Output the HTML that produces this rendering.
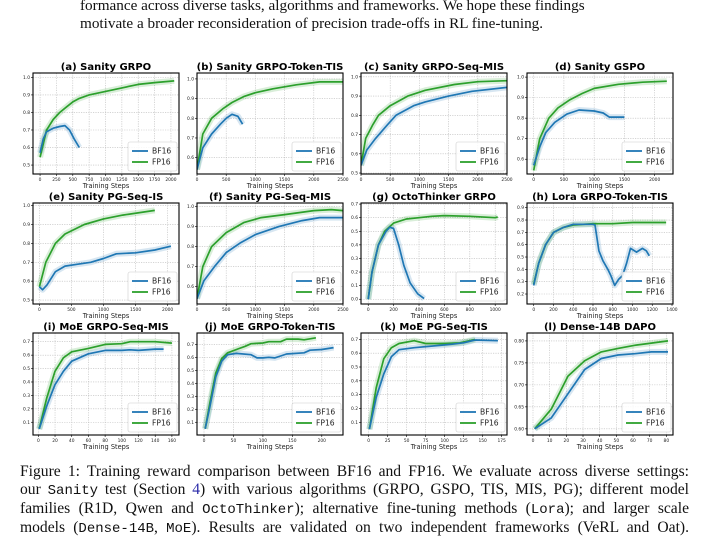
<!DOCTYPE html>
<html><head><meta charset="utf-8">
<style>
html,body{margin:0;padding:0;background:#fff;}
body{width:717px;height:548px;position:relative;overflow:hidden;font-family:"Liberation Serif",serif;}
.top{position:absolute;left:80px;width:560px;font-size:15.2px;line-height:18px;color:#111;}
.cap{position:absolute;left:20px;width:669px;font-size:15.6px;line-height:18px;color:#111;}
.cap div{text-align:justify;text-align-last:justify;white-space:nowrap;}
.mono{font-family:"Liberation Mono",monospace;font-size:14px;}
svg{position:absolute;left:0;top:0;}
</style></head>
<body>
<div class="top" style="top:-3px">formance across diverse tasks, algorithms and frameworks. We hope these findings<br>motivate a broader reconsideration of precision trade-offs in RL fine-tuning.</div>
<svg id="fig" width="717" height="548"></svg>
<div class="cap" style="top:463px">
<div>Figure 1: Training reward comparison between BF16 and FP16. We evaluate across diverse settings:</div>
<div>our <span class="mono">Sanity</span> test (Section <span style="color:#2a2aa8">4</span>) with various algorithms (GRPO, GSPO, TIS, MIS, PG); different model</div>
<div>families (R1D, Qwen and <span class="mono">OctoThinker</span>); alternative fine-tuning methods (<span class="mono">Lora</span>); and larger scale</div>
<div>models (<span class="mono">Dense-14B</span>, <span class="mono">MoE</span>). Results are validated on two independent frameworks (VeRL and Oat).</div>
</div>
<script>
// ---- data ----
const aBFx=[0,50,100,200,300,380,450,520,600];
const aBF=[0.57,0.65,0.69,0.71,0.72,0.725,0.70,0.65,0.60];
const aFPx=[0,100,200,300,400,500,600,750,1000,1250,1500,1750,2050];
const aFP=[0.545,0.70,0.76,0.80,0.83,0.86,0.88,0.90,0.92,0.94,0.96,0.97,0.98];
const bBFx=[0,100,250,400,500,600,700,780];
const bBF=[0.54,0.65,0.72,0.77,0.80,0.82,0.81,0.77];
const bFPx=[0,100,250,450,600,800,1000,1300,1700,2100,2500];
const bFP=[0.54,0.72,0.80,0.85,0.88,0.91,0.93,0.95,0.97,0.985,0.985];
const cBFx=[0,100,250,450,600,900,1100,1500,1900,2500];
const cBF=[0.54,0.62,0.68,0.75,0.80,0.85,0.87,0.90,0.925,0.945];
const cFPx=[0,80,200,300,500,800,1100,1600,2000,2500];
const cFP=[0.54,0.68,0.75,0.80,0.85,0.90,0.93,0.96,0.975,0.98];
const dBFx=[0,100,200,350,550,750,1000,1150,1250,1500];
const dBF=[0.57,0.66,0.73,0.78,0.82,0.84,0.835,0.825,0.805,0.805];
const dFPx=[0,100,250,400,600,800,1000,1400,1800,2200];
const dFP=[0.545,0.70,0.80,0.85,0.89,0.92,0.945,0.965,0.975,0.98];
const eBFx=[0,50,120,250,400,600,800,1000,1200,1500,1800,2050];
const eBF=[0.57,0.555,0.58,0.65,0.68,0.69,0.70,0.72,0.745,0.75,0.765,0.785];
const eFPx=[0,100,250,400,700,1000,1300,1800];
const eFP=[0.57,0.70,0.80,0.85,0.90,0.93,0.95,0.975];
const fBFx=[0,120,300,500,750,1000,1400,1800,2100,2500];
const fBF=[0.54,0.63,0.70,0.77,0.82,0.86,0.90,0.93,0.945,0.945];
const fFPx=[0,100,250,500,800,1100,1500,2000,2300,2500];
const fFP=[0.54,0.70,0.80,0.87,0.92,0.945,0.96,0.98,0.985,0.98];
const gBFx=[0,30,80,140,170,200,240,280,330,390,440];
const gBF=[0.0,0.2,0.4,0.5,0.53,0.52,0.4,0.25,0.12,0.04,0.005];
const gFPx=[0,30,80,130,200,300,400,500,600,800,1000,1020];
const gFP=[0.0,0.2,0.4,0.5,0.56,0.59,0.60,0.61,0.615,0.61,0.60,0.605];
const hBFx=[0,50,120,200,300,400,600,620,660,700,750,780,820,860,900,940,980,1040,1100,1140,1170];
const hBF=[0.27,0.45,0.6,0.7,0.74,0.765,0.765,0.76,0.55,0.47,0.40,0.35,0.27,0.32,0.35,0.45,0.57,0.54,0.57,0.55,0.51];
const hFPx=[0,50,120,200,300,400,600,800,1000,1200,1340];
const hFP=[0.28,0.45,0.6,0.7,0.74,0.76,0.77,0.77,0.78,0.78,0.78];
const iBFx=[1,10,20,30,40,60,80,100,110,120,140,150];
const iBF=[0.05,0.22,0.38,0.48,0.555,0.61,0.635,0.635,0.64,0.635,0.645,0.645];
const iFPx=[1,10,20,30,40,60,80,100,110,140,160];
const iFP=[0.05,0.28,0.48,0.58,0.625,0.65,0.68,0.685,0.70,0.70,0.69];
const jBFx=[2,10,20,30,40,55,80,90,100,110,120,130,140,170,180,200,220];
const jBF=[0.05,0.22,0.45,0.57,0.62,0.63,0.62,0.595,0.595,0.60,0.595,0.61,0.625,0.635,0.655,0.66,0.675];
const jFPx=[2,10,20,30,40,55,70,80,100,110,130,140,160,170,190];
const jFP=[0.05,0.25,0.48,0.59,0.635,0.66,0.685,0.705,0.71,0.72,0.72,0.74,0.74,0.735,0.75];
const kBFx=[1,10,20,30,40,60,90,110,125,140,170];
const kBF=[0.05,0.28,0.45,0.575,0.625,0.64,0.655,0.665,0.675,0.695,0.69];
const kFPx=[1,10,20,30,40,60,75,100,120,140];
const kFP=[0.05,0.35,0.56,0.64,0.67,0.69,0.67,0.67,0.675,0.70];
const lBFx=[1,11,21,31,41,51,61,71,81];
const lBF=[0.60,0.625,0.68,0.735,0.76,0.768,0.771,0.775,0.775];
const lFPx=[1,11,21,31,41,51,61,71,81];
const lFP=[0.60,0.645,0.72,0.755,0.775,0.783,0.79,0.795,0.80];
const titles=["(a) Sanity GRPO","(b) Sanity GRPO-Token-TIS","(c) Sanity GRPO-Seq-MIS","(d) Sanity GSPO","(e) Sanity PG-Seq-IS","(f) Sanity PG-Seq-MIS","(g) OctoThinker GRPO","(h) Lora GRPO-Token-TIS","(i) MoE GRPO-Seq-MIS","(j) MoE GRPO-Token-TIS","(k) MoE PG-Seq-TIS","(l) Dense-14B DAPO"];
const xTicks=[[0,250,500,750,1000,1250,1500,1750,2000],[0,500,1000,1500,2000,2500],[0,500,1000,1500,2000,2500],[0,500,1000,1500,2000],[0,500,1000,1500,2000],[0,500,1000,1500,2000,2500],[0,200,400,600,800,1000],[0,200,400,600,800,1000,1200,1400],[0,20,40,60,80,100,120,140,160],[0,50,100,150,200],[0,25,50,75,100,125,150,175],[0,10,20,30,40,50,60,70,80]];
const yTicks=[[0.5,0.6,0.7,0.8,0.9,1.0],[0.6,0.7,0.8,0.9,1.0],[0.5,0.6,0.7,0.8,0.9,1.0],[0.6,0.7,0.8,0.9,1.0],[0.5,0.6,0.7,0.8,0.9,1.0],[0.6,0.7,0.8,0.9,1.0],[0,0.1,0.2,0.3,0.4,0.5,0.6,0.7],[0.2,0.3,0.4,0.5,0.6,0.7,0.8,0.9],[0.1,0.2,0.3,0.4,0.5,0.6,0.7],[0.1,0.2,0.3,0.4,0.5,0.6,0.7],[0.1,0.2,0.3,0.4,0.5,0.6,0.7],[0.60,0.65,0.70,0.75,0.80]];
const xRanges=[[-108,2123],[0,2500],[0,2500],[-110,2303],[-99,2177],[0,2500],[-57,1093],[-68,1410],[-6.4,168.5],[-11.9,236],[-10,182],[-3.6,84]];
const yRanges=[[0.449,1.025],[0.517,1.03],[0.495,1.02],[0.528,1.02],[0.479,1.014],[0.513,1.018],[-0.035,0.708],[0.119,0.938],[0.005,0.765],[0.002,0.787],[0.008,0.746],[0.586,0.818]];
const series=[[aBFx,aBF,aFPx,aFP],[bBFx,bBF,bFPx,bFP],[cBFx,cBF,cFPx,cFP],[dBFx,dBF,dFPx,dFP],[eBFx,eBF,eFPx,eFP],[fBFx,fBF,fFPx,fFP],[gBFx,gBF,gFPx,gFP],[hBFx,hBF,hFPx,hFP],[iBFx,iBF,iFPx,iFP],[jBFx,jBF,jFPx,jFP],[kBFx,kBF,kFPx,kFP],[lBFx,lBF,lFPx,lFP]];
// ---- layout ----
const colX=[33,197,361,527], rowY=[73,203,333], W=146, H=[101,101,102];
const NS="http://www.w3.org/2000/svg";
const svg=document.getElementById('fig');
function mk(tag,attrs,parent){const e=document.createElementNS(NS,tag);for(const k in attrs)e.setAttribute(k,attrs[k]);(parent||svg).appendChild(e);return e;}
function fmtY(v,p){return p===11?v.toFixed(2):v.toFixed(1);}
function fmtX(v){return String(v);}
const BLUE="#1f77b4",GREEN="#2ca02c";
for(let p=0;p<12;p++){
  const c=p%4,r=Math.floor(p/4);
  const L=colX[c],T=rowY[r],h=H[r];
  const [x0,x1]=xRanges[p],[y0,y1]=yRanges[p];
  const sx=v=>L+(v-x0)/(x1-x0)*W;
  const sy=v=>T+h-(v-y0)/(y1-y0)*h;
  const g=mk('g',{});
  
  
  const t=mk('text',{x:L+W/2,y:T-3,'text-anchor':'middle','font-family':'DejaVu Sans,sans-serif','font-weight':'bold','font-size':'10'},g);
  t.textContent=titles[p];
  
  
  for(const v of xTicks[p]){
    const X=sx(v);
    mk('line',{x1:X,x2:X,y1:T,y2:T+h,stroke:'#bbb','stroke-width':0.6,'stroke-dasharray':'1.2,1.2'},g);
    mk('line',{x1:X,x2:X,y1:T+h,y2:T+h+2,stroke:'#000','stroke-width':0.6},g);
    const tx=mk('text',{x:X,y:T+h+7,'text-anchor':'middle','font-family':'DejaVu Sans,sans-serif','font-size':'4.4',fill:'#222'},g);
    tx.textContent=fmtX(v);
    
    
  }
  for(const v of yTicks[p]){
    const Y=sy(v);
    mk('line',{x1:L,x2:L+W,y1:Y,y2:Y,stroke:'#bbb','stroke-width':0.6,'stroke-dasharray':'1.2,1.2'},g);
    mk('line',{x1:L-2,x2:L,y1:Y,y2:Y,stroke:'#000','stroke-width':0.6},g);
    const ty=mk('text',{x:L-3,y:Y+1.5,'text-anchor':'end','font-family':'DejaVu Sans,sans-serif','font-size':'4.4',fill:'#222'},g);
    ty.textContent=fmtY(v,p);
    
    
  }
  const s=series[p];
  const pts=(xs,ys)=>xs.map((x,i)=>sx(x).toFixed(1)+','+sy(ys[i]).toFixed(1)).join(' ');
  const defsId='clip'+p;
  const cp=mk('clipPath',{id:defsId},g);mk('rect',{x:L,y:T,width:W,height:h},cp);
  const gg=mk('g',{'clip-path':'url(#'+defsId+')'},g);
  const hb=mk('polyline',{points:pts(s[0],s[1]),fill:'none',stroke:BLUE,'stroke-opacity':0.18,'stroke-width':6,'stroke-linejoin':'round'},gg);
  
  
  const hf=mk('polyline',{points:pts(s[2],s[3]),fill:'none',stroke:GREEN,'stroke-opacity':0.18,'stroke-width':6,'stroke-linejoin':'round'},gg);
  
  
  const lf=mk('polyline',{points:pts(s[2],s[3]),fill:'none',stroke:GREEN,'stroke-width':1.7,'stroke-linejoin':'round'},gg);
  
  
  const lb=mk('polyline',{points:pts(s[0],s[1]),fill:'none',stroke:BLUE,'stroke-width':1.7,'stroke-linejoin':'round'},gg);
  
  
  mk('rect',{x:L,y:T,width:W,height:h,fill:'none',stroke:'#000','stroke-width':1.1},g);
  const xl=mk('text',{x:L+W/2,y:T+h+14,'text-anchor':'middle','font-family':'DejaVu Sans,sans-serif','font-size':'6.6',fill:'#222'},g);
  xl.textContent='Training Steps';
  
  
  const lg=mk('g',{},g);
  
  
  const lx=L+W-51,ly=T+h-32;
  mk('rect',{x:lx,y:ly,width:49,height:29,rx:2,fill:'#fff','fill-opacity':0.85,stroke:'#ccc','stroke-width':0.6},lg);
  [[BLUE,'BF16'],[GREEN,'FP16']].forEach((e,i)=>{
    const yy=ly+9+i*11;
    mk('line',{x1:lx+4,x2:lx+20,y1:yy,y2:yy,stroke:e[0],'stroke-width':1.8},lg);
    const lt=mk('text',{x:lx+24,y:yy+2.6,'font-family':'DejaVu Sans,sans-serif','font-size':'7.6',fill:'#222'},lg);
    lt.textContent=e[1];
    
    
  });
}
</script>
</body></html>
